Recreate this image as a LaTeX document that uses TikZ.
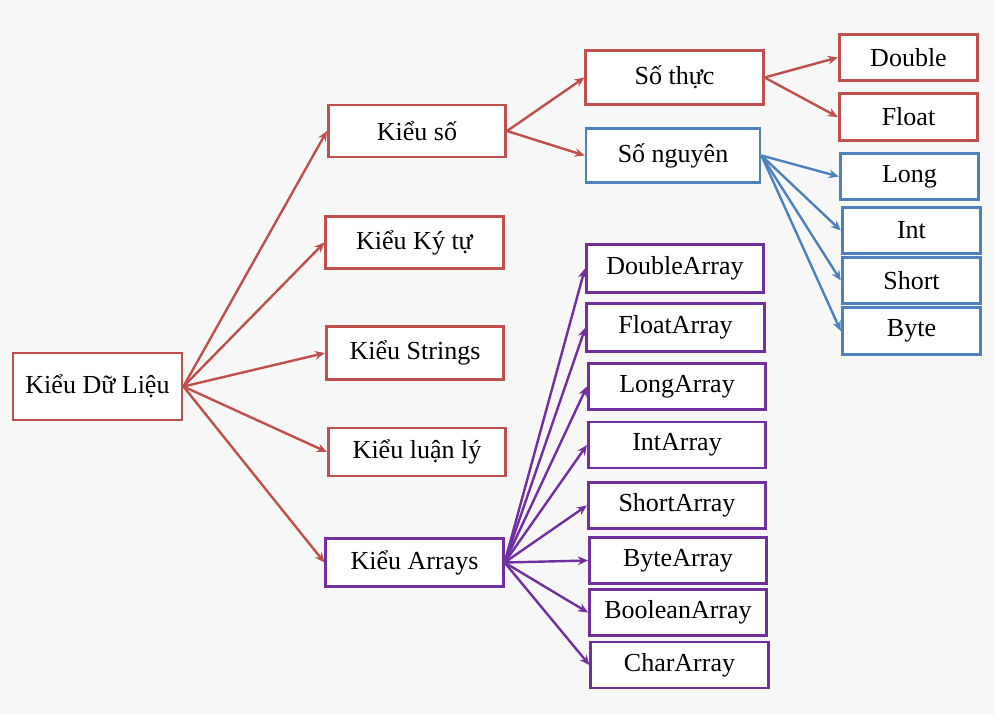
\documentclass[tikz,border=0pt]{standalone}
\usepackage{fontspec}
\setmainfont{Liberation Serif}
\usetikzlibrary{arrows.meta}

\definecolor{boxred}{RGB}{192,80,77}
\definecolor{boxblue}{RGB}{79,129,189}
\definecolor{boxpurple}{RGB}{112,48,160}
\definecolor{pagegray}{RGB}{247,247,247}

\tikzset{every picture/.style={line width=0.75pt}}
\tikzset{
  box/.style={draw, fill=white, line width=2.1pt, inner sep=0pt, align=center,
    font=\fontsize{19.5}{23}\selectfont},
  typebox/.style={box, minimum width=133pt, minimum height=37.5pt},
  leafbox/.style={box, minimum width=104pt, minimum height=35pt},
  arrbox/.style={box, minimum width=133pt, minimum height=34.5pt},
  link/.style={line width=1.8pt, -{Stealth[length=7.5pt,width=6.5pt]}}
}

\begin{document}
\begin{tikzpicture}[x=0.75pt,y=0.75pt,yscale=-1,xscale=1]
%page background, 994 x 714
\fill [pagegray] (0,0) rectangle (994,714);
\useasboundingbox (0,0) rectangle (994,714);

% Text Node
\node [box, draw=boxred, minimum width=126.75pt, minimum height=50.25pt] (kdl) at (97.5,386.5) {Kiểu Dữ Liệu};
% Text Node
\node [typebox, draw=boxred, minimum height=39pt] (kso) at (417,131) {Kiểu số};
% Text Node
\node [typebox, draw=boxred, minimum height=39pt] (kkytu) at (414.5,242.5) {Kiểu Ký tự};
% Text Node
\node [typebox, draw=boxred, minimum height=40pt] (kstr) at (415,353) {Kiểu Strings};
% Text Node
\node [typebox, draw=boxred, minimum height=36pt] (kluanly) at (417,452) {Kiểu luận lý};
% Text Node
\node [typebox, draw=boxpurple, minimum height=35.5pt] (karr) at (414.5,562.5) {Kiểu Arrays};

% Text Node
\node [typebox, draw=boxred, minimum height=40pt] (sothuc) at (674.5,77.5) {Số thực};
% Text Node
\node [typebox, draw=boxblue, minimum width=130.5pt, minimum height=40pt] (songuyen) at (673,155.5) {Số nguyên};

% Text Node
\node [leafbox, draw=boxred] (dbl) at (908.5,57.5) {Double};
% Text Node
\node [leafbox, draw=boxred] (flt) at (908.5,117) {Float};
% Text Node
\node [leafbox, draw=boxblue] (lng) at (909.5,176.5) {Long};
% Text Node
\node [leafbox, draw=boxblue] (int) at (911.5,230.5) {Int};
% Text Node
\node [leafbox, draw=boxblue] (sht) at (911.5,280.5) {Short};
% Text Node
\node [leafbox, draw=boxblue] (byt) at (911.5,331) {Byte};

% Text Node
\node [arrbox, draw=boxpurple, minimum height=35.5pt] (adbl) at (675,268.5) {DoubleArray};
% Text Node
\node [arrbox, draw=boxpurple, minimum height=35.5pt] (aflt) at (675.5,327.5) {FloatArray};
% Text Node
\node [arrbox, draw=boxpurple] (alng) at (677,386.5) {LongArray};
% Text Node
\node [arrbox, draw=boxpurple] (aint) at (677,445) {IntArray};
% Text Node
\node [arrbox, draw=boxpurple] (asht) at (677,505.5) {ShortArray};
% Text Node
\node [arrbox, draw=boxpurple] (abyt) at (678,560.5) {ByteArray};
% Text Node
\node [arrbox, draw=boxpurple] (abool) at (678,612.5) {BooleanArray};
% Text Node
\node [arrbox, draw=boxpurple] (achr) at (679.5,665) {CharArray};

%Straight Lines, root
\foreach \t in {kso,kkytu,kstr,kluanly,karr}
  \draw [link, boxred] (kdl.east) -- (\t.west);

%Straight Lines, so
\draw [link, boxred] (kso.east) -- (sothuc.west);
\draw [link, boxred] (kso.east) -- (songuyen.west);
\draw [link, boxred] (sothuc.east) -- (dbl.west);
\draw [link, boxred] (sothuc.east) -- (flt.west);
\foreach \t in {lng,int,sht,byt}
  \draw [link, boxblue] (songuyen.east) -- (\t.west);

%Straight Lines, arrays
\foreach \t in {adbl,aflt,alng,aint,asht,abyt,abool,achr}
  \draw [link, boxpurple] (karr.east) -- (\t.west);

\end{tikzpicture}
\end{document}
